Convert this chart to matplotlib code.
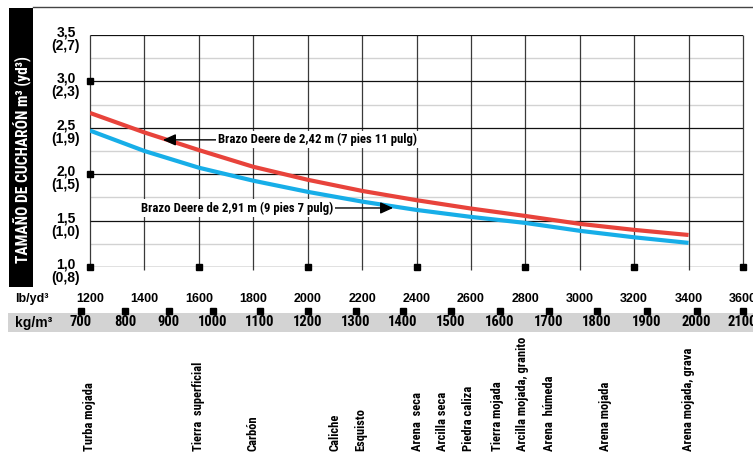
import matplotlib
matplotlib.use("Agg")
import matplotlib.pyplot as plt
from matplotlib.patches import Rectangle
from matplotlib.lines import Line2D
from matplotlib.transforms import blended_transform_factory, ScaledTranslation

# ---------------- data ----------------
lb_density = [1200, 1400, 1600, 1800, 2000, 2200, 2400, 2600, 2800, 3000, 3200, 3400]
arm_242 = [2.66, 2.45, 2.26, 2.08, 1.94, 1.82, 1.72, 1.63, 1.55, 1.465, 1.40, 1.345]
arm_291 = [2.47, 2.25, 2.07, 1.93, 1.81, 1.705, 1.615, 1.54, 1.475, 1.39, 1.32, 1.26]

x_ticks_lb = [1200, 1400, 1600, 1800, 2000, 2200, 2400, 2600, 2800, 3000, 3200, 3400, 3600]
y_major = [1.0, 1.5, 2.0, 2.5, 3.0, 3.5]
y_major_labels = ["1,0", "1,5", "2,0", "2,5", "3,0", "3,5"]
y_yd_labels = ["(0,8)", "(1,0)", "(1,5)", "(1,9)", "(2,3)", "(2,7)"]
y_minor = [1.25, 1.75, 2.25, 2.75, 3.25]

kg_labels = ["700", "800", "900", "1000", "1100", "1200", "1300", "1400",
             "1500", "1600", "1700", "1800", "1900", "2000", "2100"]
kg_at_lb = [1166, 1329, 1490, 1652, 1825, 2000, 2178, 2349,
            2527, 2707, 2887, 3063, 3246, 3430, 3599]

materials = ["Turba mojada", "Tierra  superficial", "Carbón", "Caliche", "Esquisto",
             "Arena  seca", "Arcilla seca", "Piedra caliza", "Tierra mojada",
             "Arcilla mojada, granito", "Arena  húmeda", "Arena mojada",
             "Arena mojada, grava"]
material_lb = [1200, 1597, 1800, 2100, 2196, 2402, 2497, 2590, 2696, 2791, 2890, 3093, 3398]

corner_marks_x = [1200, 1200, 1200, 1600, 2000, 2400, 2800, 3200, 3600]
corner_marks_y = [3.0, 2.0, 1.0, 1.0, 1.0, 1.0, 1.0, 1.0, 1.0]

label_242 = "Brazo Deere de 2,42 m (7 pies 11 pulg)"
label_291 = "Brazo Deere de 2,91 m (9 pies 7 pulg)"

RED = "#e8433b"
BLUE = "#17aee8"

NARROW = ["Roboto Condensed", "DejaVu Sans"]
WIDE = ["Liberation Sans", "DejaVu Sans"]

W, H = 753, 454
fig = plt.figure(figsize=(W / 100, H / 100), dpi=100)


def fx(px):
    return px / W


def fy(py):
    return 1 - py / H


ax = fig.add_axes([fx(90), fy(267), (743 - 90) / W, (267 - 35) / H])
ax.set_xlim(1200, 3600)
ax.set_ylim(1.0, 3.5)
ax.axis("off")

# grid
ax.hlines(y_minor, 1200, 3600, color="#d2d2d2", lw=1.0, zorder=1)
ax.vlines(x_ticks_lb, 0.97, 3.5, color="#3a3a3a", lw=0.9, zorder=2, clip_on=False)
ax.hlines(y_major, 1200, 3600, color="#111111", lw=0.9, zorder=2)

# curves
ax.plot(lb_density, arm_242, color=RED, lw=3.0, solid_capstyle="butt", zorder=4)
ax.plot(lb_density, arm_291, color=BLUE, lw=3.0, solid_capstyle="butt", zorder=4)

# square markers
ax.plot(corner_marks_x, corner_marks_y, ls="none", marker="s", ms=4.5,
        color="black", zorder=5, clip_on=False)

# annotations
arrow = dict(arrowstyle="-|>,head_length=0.55,head_width=0.25", color="black",
             lw=1.0, shrinkA=0, shrinkB=0, mutation_scale=14)
ax.annotate(label_242, xy=(1468, 2.37), xytext=(1670, 2.37), ha="left", va="center",
            fontsize=9.2, fontweight="bold", family=NARROW, zorder=6,
            bbox=dict(boxstyle="square,pad=0.15", fc="white", ec="none"),
            arrowprops=arrow)
ax.annotate(label_291, xy=(2314, 1.636), xytext=(2093, 1.636), ha="right", va="center",
            fontsize=9.2, fontweight="bold", family=NARROW, zorder=6,
            bbox=dict(boxstyle="square,pad=0.15", fc="white", ec="none"),
            arrowprops=arrow)

# y tick labels
ytr = blended_transform_factory(fig.transFigure, ax.transData)
for v, a, b in zip(y_major, y_major_labels, y_yd_labels):
    ax.text(fx(66), v, a, transform=ytr + ScaledTranslation(0, 2.5 / 100, fig.dpi_scale_trans),
            ha="center", va="center", fontsize=10, fontweight="bold", family=WIDE)
    ax.text(fx(66), v, b, transform=ytr + ScaledTranslation(0, -11 / 100, fig.dpi_scale_trans),
            ha="center", va="center", fontsize=10, fontweight="bold", family=WIDE)

# x tick labels (lb/yd3)
xtr = blended_transform_factory(ax.transData, fig.transFigure)
for v in x_ticks_lb:
    ax.text(v, fy(299), str(v), transform=xtr, ha="center", va="center",
            fontsize=9, fontweight="bold", family=WIDE, clip_on=False)
fig.text(fx(15), fy(299), "lb/yd³", ha="left", va="center", fontsize=9,
         fontweight="bold", family=WIDE)

# kg band
fig.patches.append(Rectangle((fx(8), fy(332)), fx(753) - fx(8), fy(312.5) - fy(332),
                             transform=fig.transFigure, fc="#d3d3d3", ec="none", zorder=-5))
ax.plot(kg_at_lb, [0] * len(kg_at_lb), ls="none", marker="s", ms=4.0, color="black",
        transform=xtr + ScaledTranslation(0, (454 - 311) / 100, fig.dpi_scale_trans),
        clip_on=False, zorder=5)
for v, lab in zip(kg_at_lb, kg_labels):
    ax.text(v, fy(322.5), lab, transform=xtr, ha="center", va="center",
            fontsize=10.5, fontweight="bold", family=NARROW, clip_on=False)
fig.text(fx(15), fy(322.5), "kg/m³", ha="left", va="center", fontsize=10,
         fontweight="bold", family=WIDE)

# materials
for v, lab in zip(material_lb, materials):
    ax.text(v, fy(451), lab, transform=xtr, ha="center", va="bottom", rotation=90,
            fontsize=9.0, fontweight="bold", family=NARROW, clip_on=False)

# y label box
fig.patches.append(Rectangle((fx(9), fy(287)), fx(33) - fx(9), fy(8) - fy(287),
                             transform=fig.transFigure, fc="black", ec="none", zorder=-5))
fig.text(fx(21.5), fy(160), "TAMAÑO DE CUCHARÓN m³ (yd³)", rotation=90, ha="center",
         va="center", color="white", fontsize=11.2, fontweight="bold", family=NARROW)

# top rule
fig.lines.append(Line2D([fx(33), fx(753)], [fy(7), fy(7)], transform=fig.transFigure,
                        color="#444444", lw=1.0))

fig.savefig("out.png", dpi=100)
